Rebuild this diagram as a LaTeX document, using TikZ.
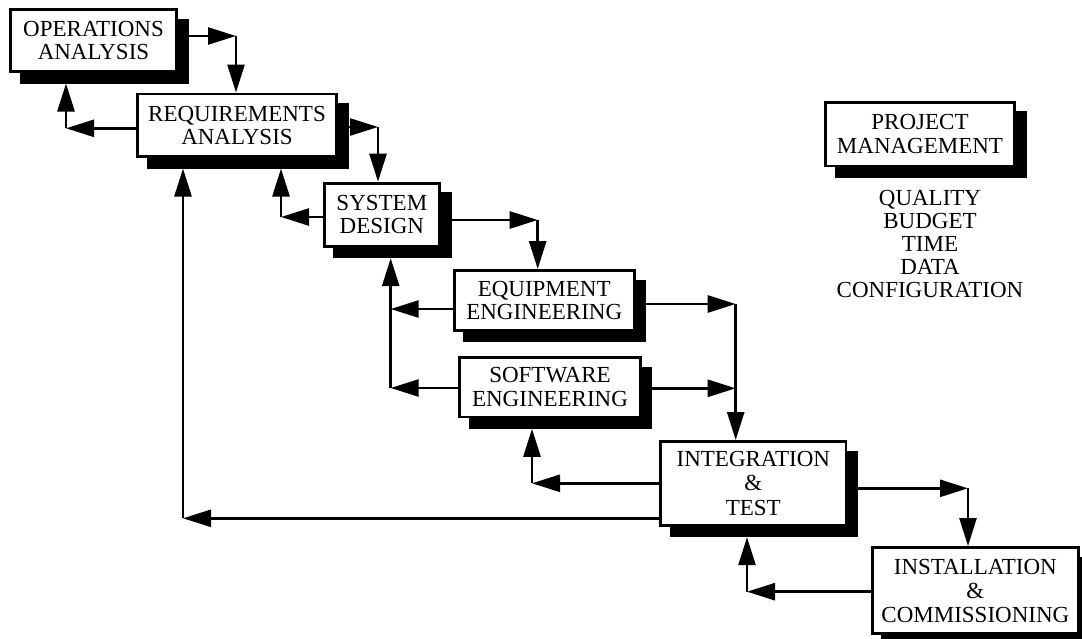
\documentclass[tikz,border=0pt]{standalone}
\usepackage{fontspec}
\setmainfont{Liberation Serif}
\usetikzlibrary{arrows.meta,shadows}
\begin{document}
\begin{tikzpicture}[x=1pt,y=-1pt,
  txt/.style={font=\fontsize{23}{23.5}\selectfont},
  box/.style={draw=black, line width=2.8pt, fill=white, align=center, inner sep=0pt, txt,
    general shadow={fill=black, draw=black, line width=2.8pt,
                    shadow xshift=10.5pt, shadow yshift=-10.5pt}},
  flow/.style={line width=2.6pt, -{Triangle[length=28pt,width=17pt]}},
]
\useasboundingbox (0,0) rectangle (1082,638);
\clip (0,0) rectangle (1082,638);

% life-cycle phases
\node[box, minimum width=166.2pt, minimum height=62.2pt] (ops) at (93.5,40.5) {OPERATIONS\\ANALYSIS};
\node[box, minimum width=199.2pt, minimum height=62.7pt] (req) at (237,125.25) {REQUIREMENTS\\ANALYSIS};
\node[box, minimum width=115.5pt, minimum height=63.2pt] (sd) at (381.85,214.7) {SYSTEM\\DESIGN};
\node[box, minimum width=180.2pt, minimum height=59.9pt] (ee) at (544.2,300.35) {EQUIPMENT\\ENGINEERING};
\node[box, minimum width=180.6pt, minimum height=59.5pt] (sw) at (550,387.15) {SOFTWARE\\ENGINEERING};
\node[box, minimum width=185.2pt, minimum height=83.9pt,
      font=\fontsize{23}{24.5}\selectfont] (it) at (753.3,483.35) {INTEGRATION\\\&\\TEST};
\node[box, minimum width=206.5pt, minimum height=86.2pt,
      font=\fontsize{23}{24}\selectfont] (inst) at (975.35,590.5) {INSTALLATION\\\&\\COMMISSIONING};

% management box and its concerns
\node[box, minimum width=189.2pt, minimum height=63.8pt] (pm) at (920,134) {PROJECT\\MANAGEMENT};
\node[align=center, inner sep=0pt, anchor=north, font=\fontsize{23}{22.9}\selectfont]
  (pmlist) at (930,190) {QUALITY\\BUDGET\\TIME\\DATA\\CONFIGURATION};

% bottom edges of the shadows, where feedback arrows stop
\coordinate (opsS) at ([yshift=-10.5pt]ops.south);
\coordinate (reqS) at ([yshift=-10.5pt]req.south);
\coordinate (sdS)  at ([yshift=-10.5pt]sd.south);
\coordinate (swS)  at ([yshift=-10.5pt]sw.south);
\coordinate (itS)  at ([yshift=-10.5pt]it.south);

% corner points of the connectors
\coordinate (k1) at (236,36);
\coordinate (k2) at (66,128.3);
\coordinate (k3) at (378,127);
\coordinate (k4) at (281,217);
\coordinate (k5) at (537.7,220);
\coordinate (k6) at (390.7,309);
\coordinate (k7) at (390.7,388);
\coordinate (k8) at (735.7,304);
\coordinate (k9) at (735.7,388.3);
\coordinate (k10) at (532,483.3);
\coordinate (k11) at (183,518.3);
\coordinate (k12) at (968,488.3);
\coordinate (k13) at (747,591.7);

% forward flow
\draw[flow] (ops.east |- k1) -- (k1);
\draw[flow] (k1) -- (k1 |- req.north);
\draw[flow] (req.east |- k3) -- (k3);
\draw[flow] (k3) -- (k3 |- sd.north);
\draw[flow] (sd.east |- k5) -- (k5);
\draw[flow] (k5) -- (k5 |- ee.north);
\draw[flow] (ee.east |- k8) -- (k8);
\draw[flow] (sw.east |- k9) -- (k9);
\draw[flow] (k8) -- (k8 |- it.north);
\draw[flow] (it.east |- k12) -- (k12);
\draw[flow] (k12) -- (k12 |- inst.north);

% feedback
\draw[flow] (req.west |- k2) -- (k2);
\draw[flow] (k2) -- (k2 |- opsS);
\draw[flow] (sd.west |- k4) -- (k4);
\draw[flow] (k4) -- (k4 |- reqS);
\draw[flow] (ee.west |- k6) -- (k6);
\draw[flow] (sw.west |- k7) -- (k7);
\draw[flow] (k7) -- (k7 |- sdS);
\draw[flow] (it.west |- k10) -- (k10);
\draw[flow] (k10) -- (k10 |- swS);
\draw[flow] (it.west |- k11) -- (k11);
\draw[flow] (k11) -- (k11 |- reqS);
\draw[flow] (inst.west |- k13) -- (k13);
\draw[flow] (k13) -- (k13 |- itS);
\end{tikzpicture}
\end{document}
